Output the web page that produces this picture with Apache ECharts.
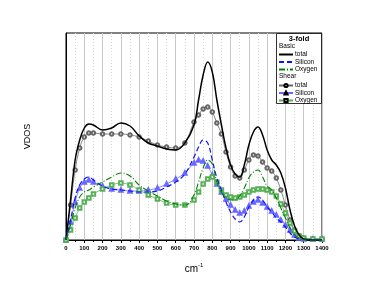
<!DOCTYPE html>
<html><head><meta charset="utf-8">
<script src="https://cdn.jsdelivr.net/npm/echarts@6/dist/echarts.min.js"></script>
<style>html,body{margin:0;padding:0;background:#fff}#c{width:374px;height:289px}</style>
</head><body><div id="c"></div>
<script>
// wavenumber (cm^-1)
const freq = [0,25,50,75,100,125,150,200,250,300,350,400,450,500,550,600,650,700,725,750,775,800,825,850,875,900,925,950,975,1000,1025,1050,1075,1100,1125,1150,1175,1200,1225,1250,1275,1300,1350,1400];
// Basic
const basicTotal   = [0,40,80,100,112,116,115,110,112,117,114,104,97,94,91,90,97,115,140,165,178,168,140,115,92,75,66,63,75,95,108,113,105,90,80,75,67,52,30,14,5,1,0,0];
const basicSilicon = [0,20,42,55,61,63,60,54,51,50,49,48,48,49,53,58,66,83,93,100,97,80,62,50,38,28,21,18,23,33,40,43,40,33,28,22,18,13,7,3,1,0,0,0];
const basicOxygen  = [0,15,32,43,48,50,53,58,63,67,64,55,49,44,39,36,35,45,58,72,80,76,58,48,43,40,40,44,52,62,68,70,63,54,50,42,32,22,12,5,2,0,0,0];
// Shear
const shearTotal   = [0,35,70,92,103,107,107,106,106,106,105,103,99,95,93,92,97,118,125,131,133,128,117,106,88,73,64,62,70,80,85,84,78,72,69,62,50,35,20,10,4,2,1,1];
const shearSilicon = [0,18,38,52,58,60,58,54,51,50,49,49,50,52,56,61,67,77,80,79,74,65,56,48,41,35,30,27,29,34,38,40,37,33,29,25,20,15,10,5,2,1,1,1];
const shearOxygen  = [0,10,22,32,38,42,46,51,55,57,55,50,45,41,37,35,35,40,48,56,61,63,58,50,45,43,42,43,45,48,50,51,51,50,48,44,36,27,17,9,4,2,1,1];
const xTicks = [0,100,200,300,400,500,600,700,800,900,1000,1100,1200,1300,1400];
const legendNames = ['b|total','b|Silicon','b|Oxygen','s|total','s|Silicon','s|Oxygen'];

const pts = ys => freq.map((x,i)=>[x,ys[i]]);
const chart = echarts.init(document.getElementById('c'));
const F = 'Liberation Sans, Arial, sans-serif';
const legText = {fontFamily:F,fontSize:6.5,color:'#000',padding:[0,0,0,-3]};
const legTops = [51,58.5,66,81,88.5,96];
const legends = legendNames.map((n,i)=>({
  data:[n],orient:'vertical',left:278,top:legTops[i] + (i<3?0:1),itemWidth:14,itemHeight: i<3 ? 6 : 4,padding:0,
  itemStyle: i<3 ? {opacity:0} : undefined,
  formatter:s=>s.split('|')[1],textStyle:legText,z:10}));
chart.setOption({
  animation:false,
  grid:{left:66,top:33,width:256,height:207,show:true,borderColor:'#000',borderWidth:1,backgroundColor:'transparent'},
  xAxis:{type:'value',min:xTicks[0],max:xTicks[xTicks.length-1],interval:100,
    name:'cm{s|-1}',nameLocation:'middle',nameGap:22,
    nameTextStyle:{fontFamily:F,fontSize:10,color:'#000',rich:{s:{fontSize:6,verticalAlign:'top',padding:[0,0,8,0],fontFamily:F}}},
    axisLine:{lineStyle:{color:'#000',width:1}},
    axisTick:{show:true,length:3,lineStyle:{color:'#000'}},
    minorTick:{show:true,splitNumber:2,length:2,lineStyle:{color:'#000'}},
    axisLabel:{fontFamily:F,fontSize:6,fontWeight:'bold',color:'#000',margin:5,formatter:v=>String(v)},
    splitLine:{show:true,lineStyle:{color:'#c8c8c8',width:1}},
    minorSplitLine:{show:true,lineStyle:{color:'#d8d8d8',type:[1,2],width:1}}
  },
  yAxis:{type:'value',min:0,max:207,
    name:'VDOS',nameLocation:'middle',nameGap:34,
    nameTextStyle:{fontFamily:F,fontSize:9,color:'#000'},
    axisLine:{show:true,lineStyle:{color:'#000'}},
    axisTick:{show:false},axisLabel:{show:false},splitLine:{show:false}},
  legend:legends,
  graphic:[
    {type:'rect',shape:{x:276.5,y:33.5,width:45,height:70},style:{fill:'#fff',stroke:'#000',lineWidth:0.8},z:5},
    {type:'text',x:299,y:35,style:{text:'3-fold',fontFamily:F,fontSize:7.5,fontWeight:'bold',fill:'#000',textAlign:'center'},z:11},
    {type:'text',x:279,y:43,style:{text:'Basic',fontFamily:F,fontSize:6.5,fill:'#000'},z:11},
    {type:'text',x:279,y:73,style:{text:'Shear',fontFamily:F,fontSize:6.5,fill:'#000'},z:11}
  ],
  series:[
    {name:'b|total',type:'line',data:pts(basicTotal),smooth:0.4,symbol:'none',color:'#000',lineStyle:{color:'#000',width:1.5},z:3},
    {name:'b|Silicon',type:'line',data:pts(basicSilicon),smooth:0.4,symbol:'none',color:'#1010ff',lineStyle:{color:'#1010ff',width:1.2,type:[5,3]},z:3},
    {name:'b|Oxygen',type:'line',data:pts(basicOxygen),smooth:0.4,symbol:'none',color:'#008000',lineStyle:{color:'#008000',width:1.1,type:[6,2,1,2]},z:3},
    {name:'s|total',type:'line',data:pts(shearTotal),smooth:0.4,symbol:'emptyCircle',symbolSize:3.5,color:'#666',lineStyle:{color:'#666',width:0.8},itemStyle:{color:'#666',borderWidth:0.7},z:2},
    {name:'s|Silicon',type:'line',data:pts(shearSilicon),smooth:0.4,symbol:'emptyTriangle',symbolSize:3.5,color:'#6868ff',lineStyle:{color:'#6868ff',width:0.8},itemStyle:{color:'#6868ff',borderWidth:0.7},z:2},
    {name:'s|Oxygen',type:'line',data:pts(shearOxygen),smooth:0.4,symbol:'emptyRect',symbolSize:3.5,color:'#58b058',lineStyle:{color:'#58b058',width:0.8},itemStyle:{color:'#58b058',borderWidth:0.7},z:2}
  ]
});
</script></body></html>
